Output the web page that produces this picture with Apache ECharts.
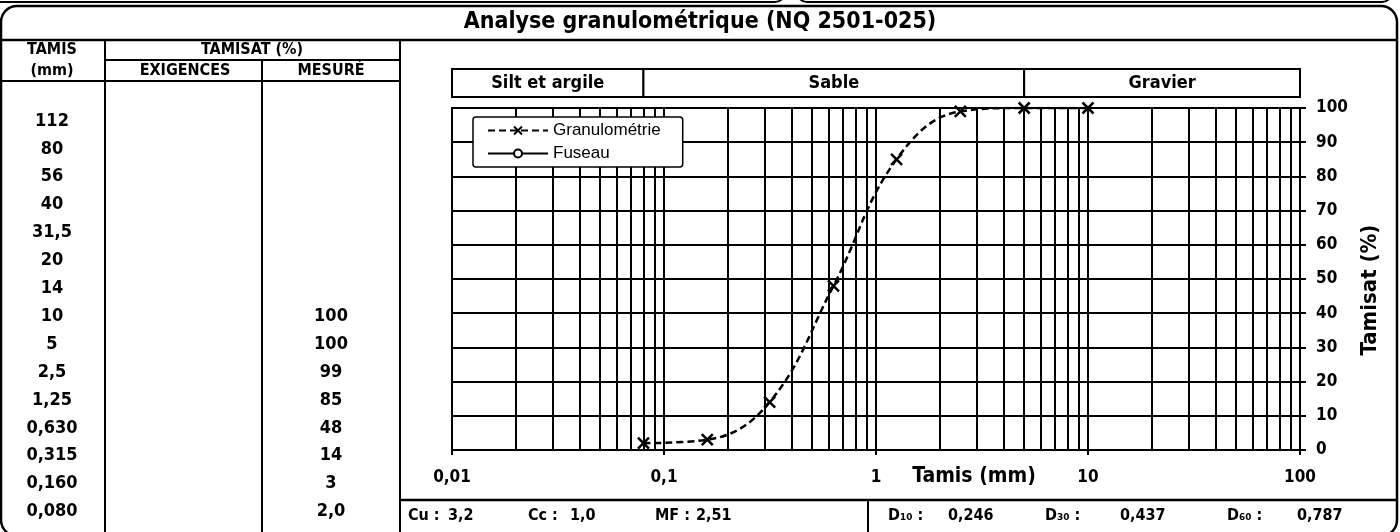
<!DOCTYPE html>
<html>
<head>
    <meta charset="utf-8">
    <script src="https://cdn.jsdelivr.net/npm/echarts@6/dist/echarts.min.js"></script>
    <style>
        html, body { margin: 0; padding: 0; background: #fff; }
        #main { width: 1400px; height: 532px; }
    </style>
</head>
<body>
    <div id="main"></div>
    <script>
        // table on the left
        var tamisLabels = ['112', '80', '56', '40', '31,5', '20', '14', '10', '5', '2,5', '1,25', '0,630', '0,315', '0,160', '0,080'];
        var exigenceLabels = ['', '', '', '', '', '', '', '', '', '', '', '', '', '', ''];
        var mesureLabels = ['', '', '', '', '', '', '', '100', '100', '99', '85', '48', '14', '3', '2,0'];

        // curve
        var sieveSizes = [0.08, 0.16, 0.315, 0.63, 1.25, 2.5, 5, 10];
        var passing = [2, 3, 14, 48, 85, 99, 100, 100];

        // soil classes along the size axis
        var zoneNames = ['Silt et argile', 'Sable', 'Gravier'];
        var zoneLimits = [0.01, 0.08, 5, 100];

        // summary line at the bottom
        var statNames = ['Cu :', 'Cc :', 'MF :', 'D₁₀ :', 'D₃₀ :', 'D₆₀ :'];
        var statValues = ['3,2', '1,0', '2,51', '0,246', '0,437', '0,787'];

        var FONT = '"DejaVu Sans Condensed", "DejaVu Sans", Verdana, sans-serif';
        var statX = [[408, 448], [528, 570], [655, 696], [888, 948], [1045, 1120], [1227, 1297]];

        // log grid lines 2..9 in each decade
        var minorGrid = [];
        [0.01, 0.1, 1, 10].forEach(function (dec) {
            for (var k = 2; k <= 9; k++) {
                minorGrid.push(+(dec * k).toPrecision(3));
            }
        });

        function ln(x1, y1, x2, y2, w) {
            return {
                type: 'line', silent: true,
                shape: {x1: x1, y1: y1, x2: x2, y2: y2},
                style: {stroke: '#000', lineWidth: w || 2}
            };
        }
        function txt(x, y, text, size, align) {
            return {
                type: 'text', silent: true, x: x, y: y,
                style: {
                    text: text, fill: '#000',
                    font: 'bold ' + size + 'px ' + FONT,
                    align: align || 'center', verticalAlign: 'middle'
                }
            };
        }

        var graphics = [
            // bits of the boxes above
            {type: 'rect', silent: true, shape: {x: -10, y: -40, width: 795, height: 42, r: 10},
                style: {fill: 'none', stroke: '#000', lineWidth: 2}},
            {type: 'rect', silent: true, shape: {x: 797, y: -40, width: 595, height: 42, r: 10},
                style: {fill: 'none', stroke: '#000', lineWidth: 2}},
            // main frame
            {type: 'rect', silent: true, shape: {x: 1, y: 6, width: 1396, height: 530, r: 16},
                style: {fill: 'none', stroke: '#000', lineWidth: 2.5}},
            ln(1, 40, 1397, 40, 2.5),
            ln(105, 40, 105, 532),
            ln(262, 60, 262, 532),
            ln(400, 40, 400, 532),
            ln(105, 60, 400, 60),
            ln(1, 81, 400, 81),
            ln(400, 500, 1397, 500, 2.5),
            ln(868, 500, 868, 532),
            txt(52, 50, 'TAMIS', 16),
            txt(52, 71, '(mm)', 16),
            txt(252, 50, 'TAMISAT (%)', 16),
            txt(185, 71, 'EXIGENCES', 16),
            txt(331, 71, 'MESURÉ', 16),
            txt(974, 477, 'Tamis (mm)', 21)
        ];

        tamisLabels.forEach(function (t, i) {
            var y = 121 + i * 27.9;
            graphics.push(txt(52, y, t, 18));
            if (exigenceLabels[i]) {
                graphics.push(txt(185, y, exigenceLabels[i], 18));
            }
            if (mesureLabels[i]) {
                graphics.push(txt(331, y, mesureLabels[i], 18));
            }
        });

        statNames.forEach(function (n, i) {
            graphics.push(txt(statX[i][0], 516, n, 16, 'left'));
            graphics.push(txt(statX[i][1], 516, statValues[i], 16, 'left'));
        });

        var chart = echarts.init(document.getElementById('main'));

        var option = {
            animation: false,
            backgroundColor: '#fff',
            title: {
                text: 'Analyse granulométrique (NQ 2501-025)',
                left: 'center',
                top: 11,
                padding: 0,
                textStyle: {
                    fontFamily: FONT,
                    fontWeight: 'bold',
                    fontSize: 23,
                    color: '#000'
                }
            },
            legend: {
                data: ['Granulométrie', 'Fuseau'],
                orient: 'vertical',
                left: 473,
                top: 117,
                z: 20,
                itemWidth: 60,
                itemHeight: 10,
                itemGap: 6,
                padding: [5, 22, 5, 14],
                backgroundColor: '#fff',
                borderColor: '#000',
                borderWidth: 1.5,
                borderRadius: 3,
                textStyle: {
                    fontFamily: '"Liberation Sans", Arial, sans-serif',
                    fontSize: 17,
                    color: '#000'
                }
            },
            grid: [{
                left: 452,
                right: 100,
                top: 108,
                bottom: 82,
                show: true,
                borderColor: '#000',
                borderWidth: 2
            }, {
                left: 452,
                right: 100,
                top: 69,
                height: 28
            }],
            xAxis: [{
                type: 'log',
                logBase: 10,
                min: 0.01,
                max: 100,
                axisLine: {lineStyle: {color: '#000', width: 2}},
                axisTick: {length: 5, lineStyle: {color: '#000', width: 2}},
                axisLabel: {
                    margin: 19,
                    color: '#000',
                    fontFamily: FONT,
                    fontWeight: 'bold',
                    fontSize: 17,
                    formatter: function (v) {
                        return String(+(+v).toPrecision(4)).replace('.', ',');
                    }
                },
                splitLine: {show: true, lineStyle: {color: '#000', width: 2}}
            }, {
                type: 'log',
                logBase: 10,
                min: 0.01,
                max: 100,
                gridIndex: 1,
                show: false
            }],
            yAxis: [{
                type: 'value',
                position: 'right',
                min: 0,
                max: 100,
                interval: 10,
                name: 'Tamisat (%)',
                nameLocation: 'middle',
                nameRotate: 90,
                nameGap: 49,
                nameTextStyle: {
                    fontFamily: FONT,
                    fontWeight: 'bold',
                    fontSize: 22,
                    color: '#000',
                    padding: [0, 22, 0, 0]
                },
                axisLine: {show: true, lineStyle: {color: '#000', width: 2}},
                axisTick: {show: true, length: 6, lineStyle: {color: '#000', width: 2}},
                axisLabel: {
                    margin: 16,
                    color: '#000',
                    fontFamily: FONT,
                    fontWeight: 'bold',
                    fontSize: 17
                },
                splitLine: {show: true, lineStyle: {color: '#000', width: 2}}
            }, {
                type: 'value',
                gridIndex: 1,
                min: 0,
                max: 1,
                show: false
            }],
            series: [{
                name: 'Granulométrie',
                type: 'line',
                data: sieveSizes.map(function (d, i) { return [d, passing[i]]; }),
                smooth: 0.4,
                symbol: 'path://M0,0L10,10M0,10L10,0',
                symbolSize: 11,
                lineStyle: {color: '#000', width: 2.5, type: [7, 4]},
                itemStyle: {color: '#000', borderColor: '#000', borderWidth: 2.5},
                z: 5
            }, {
                name: 'Fuseau',
                type: 'line',
                data: [],
                symbol: 'emptyCircle',
                symbolSize: 7,
                lineStyle: {color: '#000', width: 2},
                itemStyle: {color: '#000', borderColor: '#000', borderWidth: 2}
            }, {
                type: 'line',
                data: [],
                silent: true,
                markLine: {
                    silent: true,
                    symbol: 'none',
                    animation: false,
                    label: {show: false},
                    lineStyle: {color: '#000', type: 'solid', width: 2},
                    data: minorGrid.map(function (v) { return {xAxis: v}; })
                }
            }, {
                type: 'line',
                xAxisIndex: 1,
                yAxisIndex: 1,
                data: [],
                silent: true,
                markArea: {
                    silent: true,
                    itemStyle: {color: '#fff', borderColor: '#000', borderWidth: 2},
                    label: {
                        show: true,
                        position: 'inside',
                        color: '#000',
                        fontFamily: FONT,
                        fontWeight: 'bold',
                        fontSize: 18
                    },
                    data: zoneNames.map(function (n, i) {
                        return [
                            {name: n, xAxis: zoneLimits[i], yAxis: 0},
                            {xAxis: zoneLimits[i + 1], yAxis: 1}
                        ];
                    })
                }
            }],
            graphic: graphics
        };

        chart.setOption(option);
    </script>
</body>
</html>
